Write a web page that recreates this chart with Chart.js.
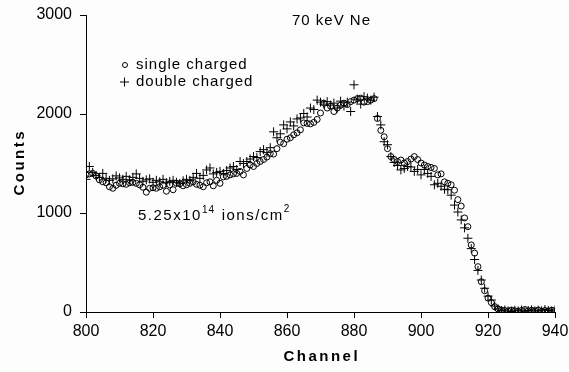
<!DOCTYPE html>
<html>
<head>
<meta charset="utf-8">
<script src="https://cdn.jsdelivr.net/npm/chart.js@4"></script>
<style>
  html, body { margin: 0; padding: 0; background: #fdfdfd; }
  #wrap { width: 569px; height: 372px; position: relative; }
</style>
</head>
<body>
<div id="wrap"><canvas id="chart" width="569" height="372"></canvas></div>
<script>
// Canales (eje X)
const channels = [
  800, 801, 802, 803, 804, 805, 806, 807, 808, 809, 810, 811, 812, 813, 814, 815, 816, 817, 818, 819,
  820, 821, 822, 823, 824, 825, 826, 827, 828, 829, 830, 831, 832, 833, 834, 835, 836, 837, 838, 839,
  840, 841, 842, 843, 844, 845, 846, 847, 848, 849, 850, 851, 852, 853, 854, 855, 856, 857, 858, 859,
  860, 861, 862, 863, 864, 865, 866, 867, 868, 869, 870, 871, 872, 873, 874, 875, 876, 877, 878, 879,
  880, 881, 882, 883, 884, 885, 886, 887, 888, 889, 890, 891, 892, 893, 894, 895, 896, 897, 898, 899,
  900, 901, 902, 903, 904, 905, 906, 907, 908, 909, 910, 911, 912, 913, 914, 915, 916, 917, 918, 919,
  920, 921, 922, 923, 924, 925, 926, 927, 928, 929, 930, 931, 932, 933, 934, 935, 936, 937, 938, 939,
  940
];

// Cuentas: iones de carga simple (circulos)
const singleCharged = [
  1385, 1395, 1400, 1375, 1335, 1315, 1305, 1265, 1250, 1280, 1300, 1295, 1290, 1305, 1310, 1300, 1285, 1260, 1210, 1250,
  1255, 1250, 1265, 1280, 1220, 1285, 1235, 1300, 1295, 1275, 1285, 1300, 1315, 1290, 1280, 1265, 1305, 1315, 1275, 1330,
  1300, 1365, 1370, 1385, 1395, 1400, 1420, 1385, 1450, 1485, 1470, 1500, 1520, 1540, 1565, 1600, 1595, 1650, 1715, 1700,
  1745, 1760, 1790, 1810, 1840, 1910, 1905, 1900, 1915, 1945, 2010, 2110, 2060, 2080, 2025, 2060, 2090, 2110, 2095, 2125,
  2140, 2155, 2160, 2120, 2125, 2140, 2155, 1955, 1835, 1770, 1650, 1570, 1540, 1520, 1535, 1505, 1520, 1545, 1570, 1540,
  1505, 1485, 1470, 1460, 1450, 1385, 1395, 1315, 1300, 1285, 1230, 1135, 1070, 950, 862, 677, 595, 458, 306, 215,
  140, 95, 54, 30, 20, 15, 10, 20, 12, 8, 15, 25, 10, 18, 12, 20, 8, 15, 10, 18,
  12
];

// Cuentas: iones de carga doble (cruces)
const doubleCharged = [
  1340, 1470, 1410, 1380, 1360, 1400, 1350, 1330, 1345, 1375, 1355, 1340, 1370, 1335, 1360, 1395, 1350, 1320, 1335, 1345,
  1310, 1330, 1315, 1340, 1305, 1320, 1330, 1310, 1300, 1325, 1340, 1330, 1360, 1400, 1350, 1380, 1435, 1455, 1395, 1410,
  1420, 1400, 1430, 1455, 1470, 1440, 1520, 1500, 1520, 1545, 1570, 1560, 1620, 1640, 1610, 1660, 1820, 1760, 1800, 1890,
  1850, 1920, 1880, 1950, 1960, 2005, 1970, 2060, 2045, 2140, 2120, 2100, 2125, 2090, 2110, 2060, 2130, 2080, 2120, 2025,
  2295, 2150, 2100, 2175, 2160, 2140, 2170, 1975, 1890, 1720, 1690, 1570, 1510, 1480, 1435, 1450, 1470, 1465, 1420, 1440,
  1385, 1440, 1400, 1370, 1285, 1300, 1270, 1240, 1235, 1180, 1080, 1010, 930, 850, 745, 640, 530, 420, 323, 240,
  160, 121, 60, 30, 15, 20, 10, 5, 18, 12, 20, 8, 15, 22, 10, 18, 12, 25, 15, 10,
  20
];

const xTicks = [800, 820, 840, 860, 880, 900, 920, 940];
const yTicks = [0, 1000, 2000, 3000];

const FONT = '"Liberation Sans", Arial, sans-serif';

// Texto con espaciado entre letras
function spacedText(ctx, text, x, y, spacing) {
  let cx = x;
  for (const ch of text) {
    ctx.fillText(ch, cx, y);
    cx += ctx.measureText(ch).width + spacing;
  }
  return cx;
}
function spacedWidth(ctx, text, spacing) {
  let w = 0;
  for (const ch of text) w += ctx.measureText(ch).width + spacing;
  return w - spacing;
}

const textPlugin = {
  id: 'textos',
  beforeDraw(chart) {
    const ctx = chart.ctx;
    ctx.save();
    ctx.fillStyle = '#fdfdfd';
    ctx.fillRect(0, 0, chart.width, chart.height);
    ctx.restore();
  },
  afterDraw(chart) {
    const ctx = chart.ctx;
    ctx.save();
    ctx.fillStyle = '#000';
    ctx.strokeStyle = '#000';
    ctx.textBaseline = 'middle';
    ctx.textAlign = 'left';

    // Titulo interior
    ctx.font = '15px ' + FONT;
    spacedText(ctx, '70 keV Ne', 292, 21, 1);

    // Leyenda
    ctx.lineWidth = 1;
    ctx.beginPath();
    ctx.arc(125, 65, 2.5, 0, Math.PI * 2);
    ctx.stroke();
    spacedText(ctx, 'single charged', 136, 65, 1);
    ctx.beginPath();
    ctx.moveTo(120, 82); ctx.lineTo(129, 82);
    ctx.moveTo(124.5, 77.5); ctx.lineTo(124.5, 86.5);
    ctx.stroke();
    spacedText(ctx, 'double charged', 136, 82, 1);

    // Dosis
    let x = spacedText(ctx, '5.25x10', 138, 216, 1.5);
    ctx.font = '10px ' + FONT;
    x = spacedText(ctx, '14', x, 210, 1);
    ctx.font = '15px ' + FONT;
    x = spacedText(ctx, ' ions/cm', x + 1, 216, 1.5);
    ctx.font = '10px ' + FONT;
    spacedText(ctx, '2', x, 209, 1);

    // Titulos de ejes
    ctx.font = 'bold 15px ' + FONT;
    const wx = spacedWidth(ctx, 'Channel', 2.5);
    const area = chart.chartArea;
    spacedText(ctx, 'Channel', (area.left + area.right) / 2 - wx / 2, 357, 2.5);

    ctx.translate(20, (area.top + area.bottom) / 2);
    ctx.rotate(-Math.PI / 2);
    const wy = spacedWidth(ctx, 'Counts', 2.5);
    spacedText(ctx, 'Counts', -wy / 2, 0, 2.5);
    ctx.restore();
  }
};

const ctx = document.getElementById('chart').getContext('2d');
new Chart(ctx, {
  type: 'scatter',
  data: {
    datasets: [
      {
        label: 'single charged',
        data: channels.map((c, i) => ({ x: c, y: singleCharged[i] })),
        pointStyle: 'circle',
        pointRadius: 3,
        pointBorderWidth: 1,
        borderColor: '#000',
        backgroundColor: 'rgba(0,0,0,0)'
      },
      {
        label: 'double charged',
        data: channels.map((c, i) => ({ x: c, y: doubleCharged[i] })),
        pointStyle: 'cross',
        pointRadius: 4.5,
        pointBorderWidth: 1,
        borderColor: '#000',
        backgroundColor: '#000'
      }
    ]
  },
  options: {
    responsive: false,
    animation: false,
    devicePixelRatio: 1,
    layout: { padding: { left: 0, right: 14, top: 15, bottom: 0 } },
    plugins: {
      legend: { display: false },
      tooltip: { enabled: false }
    },
    scales: {
      x: {
        type: 'linear',
        min: 800,
        max: 940,
        afterBuildTicks: s => { s.ticks = xTicks.map(v => ({ value: v })); },
        afterFit: s => { s.height = 60; s.paddingLeft = 0; s.paddingRight = 0; },
        ticks: { color: '#000', font: { family: FONT, size: 16 }, padding: 4, maxRotation: 0, callback: v => String(v) },
        grid: { drawOnChartArea: false, drawTicks: true, tickLength: 6, color: '#000', lineWidth: 1 },
        border: { color: '#000', width: 1 }
      },
      y: {
        min: 0,
        max: 3000,
        afterBuildTicks: s => { s.ticks = yTicks.map(v => ({ value: v })); },
        afterFit: s => { s.width = 86; s.paddingTop = 0; s.paddingBottom = 0; },
        ticks: { color: '#000', font: { family: FONT, size: 16 }, padding: 8, callback: v => String(v) },
        grid: { drawOnChartArea: false, drawTicks: true, tickLength: 6, color: '#000', lineWidth: 1 },
        border: { color: '#000', width: 1 }
      }
    }
  },
  plugins: [textPlugin]
});
</script>
</body>
</html>
